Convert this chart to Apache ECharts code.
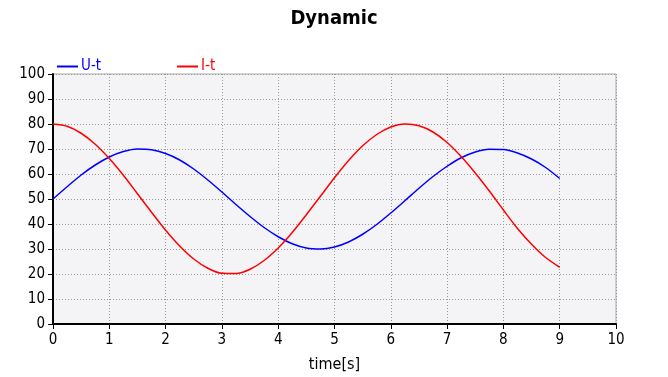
<!DOCTYPE html>
<html>
<head>
<meta charset="utf-8">
<script src="https://cdn.jsdelivr.net/npm/echarts@6/dist/echarts.min.js"></script>
<style>
 html, body { margin: 0; padding: 0; background: #fff; }
 #chart { width: 668px; height: 377px; }
</style>
</head>
<body>
<div id="chart"></div>
<script>
// time samples [s]
const timeS = [0, 0.25, 0.5, 0.75, 1, 1.25, 1.5, 1.75, 2, 2.25, 2.5, 2.75, 3, 3.25, 3.5, 3.75, 4, 4.25, 4.5,
 4.75, 5, 5.25, 5.5, 5.75, 6, 6.25, 6.5, 6.75, 7, 7.25, 7.5, 7.75, 8, 8.25, 8.5, 8.75, 9]
const uValues = [50.0, 54.9, 59.6, 63.6, 66.8, 69.0, 70.0, 69.7, 68.2, 65.6, 62.0, 57.6, 52.8, 47.8, 43.0, 38.6, 34.9, 32.1, 30.4,
 30.0, 30.8, 32.8, 35.9, 39.8, 44.4, 49.3, 54.3, 59.0, 63.1, 66.5, 68.8, 69.9, 69.8, 68.4, 66.0, 62.6, 58.2]
const iValues = [80.0, 79.1, 76.3, 71.9, 66.2, 59.5, 52.1, 44.7, 37.5, 31.2, 26.0, 22.3, 20.3, 20.2, 21.9, 25.4, 30.4, 36.6, 43.7,
 51.1, 58.5, 65.4, 71.3, 75.8, 78.8, 80.0, 79.3, 76.8, 72.6, 67.0, 60.4, 53.2, 45.6, 38.2, 31.9, 26.6, 22.7]
const seriesNames = ['U-t', 'I-t']
const seriesColors = ['#0000ff', '#ff0000']

const font = 'DejaVu Sans Condensed'
const pairs = (ys) => timeS.map((t, i) => [t, ys[i]])
const gridLine = { show: true, lineStyle: { type: [1, 2], color: '#999' } }

const chart = echarts.init(document.getElementById('chart'))
chart.setOption({
 animation: false,
 title: {
  text: 'Dynamic',
  left: 'center',
  top: 4,
  textStyle: { fontFamily: font, fontSize: 20, fontWeight: 'bold', color: '#000' }
 },
 legend: {
  left: 52,
  top: 54,
  itemWidth: 21,
  itemHeight: 2,
  itemGap: 76,
  icon: 'rect',
  textStyle: { fontFamily: font, fontSize: 15, padding: [0, 0, 0, -2] },
  data: seriesNames.map((n, i) => ({ name: n, textStyle: { color: seriesColors[i] } }))
 },
 grid: {
  left: 53,
  right: 52,
  top: 74,
  bottom: 53,
  outerBoundsMode: 'none',
  show: true,
  backgroundColor: '#f4f4f7',
  borderColor: '#aaaaaa',
  borderWidth: 1
 },
 xAxis: {
  type: 'value',
  min: 0,
  max: 10,
  interval: 1,
  name: 'time[s]',
  nameLocation: 'middle',
  nameGap: 33,
  nameTextStyle: { fontFamily: font, fontSize: 16, color: '#000' },
  axisLine: { lineStyle: { color: '#000', width: 2 } },
  axisTick: { show: true, length: 5, lineStyle: { color: '#000' } },
  axisLabel: { fontFamily: font, fontSize: 15, color: '#000', margin: 9 },
  splitLine: gridLine
 },
 yAxis: {
  type: 'value',
  min: 0,
  max: 100,
  interval: 10,
  axisLine: { show: true, lineStyle: { color: '#000', width: 2 } },
  axisTick: { show: true, length: 5, lineStyle: { color: '#000' } },
  axisLabel: { fontFamily: font, fontSize: 15, color: '#000', margin: 8 },
  splitLine: gridLine
 },
 series: [
  {
   name: seriesNames[0],
   type: 'line',
   data: pairs(uValues),
   showSymbol: false,
   smooth: 0.3,
   color: seriesColors[0],
   lineStyle: { width: 1.5 }
  },
  {
   name: seriesNames[1],
   type: 'line',
   data: pairs(iValues),
   showSymbol: false,
   smooth: 0.3,
   color: seriesColors[1],
   lineStyle: { width: 1.5 }
  }
 ]
})
</script>
</body>
</html>
